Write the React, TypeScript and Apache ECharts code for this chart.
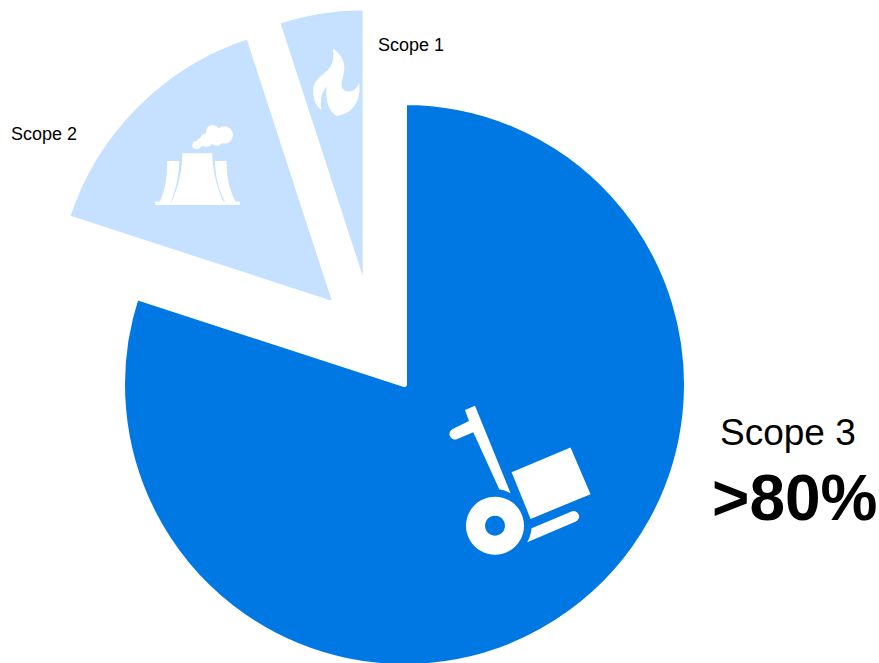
import React, { useEffect, useRef } from "react";
import * as echarts from "echarts";

const categories = ["Scope 3", "Scope 2", "Scope 1"];
const shares = [80, 15, 5];
const colors = ["#0078e3", "#c6e1ff", "#c6e1ff"];
const centers = [[404.5, 384.5], [335.6, 304.6], [365.2, 291.8]];
const radii = [282, 282, 284];
const headline = ">80%";

const FLAME =
  "M128 55 C150 70 168 95 162 125 C158 150 150 165 158 176 C170 192 198 186 207 160 C214 195 200 250 140 258 C118 245 105 215 110 170 C92 190 90 215 95 240 C78 232 68 205 70 175 C72 150 100 135 118 115 C130 100 133 78 128 55 Z";
const PLANT =
  "M30 260 H78 C92 225 102 185 103 138 H66 C68 185 60 225 45 260 H30 Z " +
  "M80 260 H235 C218 220 203 175 202 115 H112 C112 175 98 220 80 260 Z " +
  "M210 138 H245 C245 190 255 228 272 260 H240 C222 225 212 190 210 138 Z " +
  "M30 260 H285 V270 H30 Z";
const TROLLEY =
  "M75 45 L105 32 L212 295 Q195 285 178 283 L100 112 L52 132 A16 16 0 0 1 38 102 L87 78 Z " +
  "M215 232 L392 158 L452 298 L272 372 Z " +
  "M275 400 L395 350 A16 16 0 0 1 408 380 L262 442 Q272 425 275 400 Z";
const SMOKE = [
  [203, 50, 20],
  [238, 60, 26],
  [215, 72, 20],
  [185, 75, 20],
  [168, 82, 13],
  [155, 90, 13],
];

echarts.graphic.registerShape("flameIcon", echarts.graphic.extendPath(FLAME, {}));
echarts.graphic.registerShape("plantIcon", echarts.graphic.extendPath(PLANT, {}));
echarts.graphic.registerShape("trolleyIcon", echarts.graphic.extendPath(TROLLEY, {}));

const FONT = '"Liberation Sans", Arial, sans-serif';

function textEl(text: string, x: number, y: number, size: number, weight = "normal") {
  return {
    type: "text",
    x,
    y,
    z: 100,
    style: { text, fontFamily: FONT, fontSize: size, fontWeight: weight, fill: "#000", textAlign: "left", textVerticalAlign: "middle" },
  };
}

export default function App() {
  const ref = useRef<HTMLDivElement>(null);
  useEffect(() => {
    const chart = echarts.init(ref.current!, null, { renderer: "svg" });
    const white = { fill: "#fff" };
    chart.setOption({
      animation: false,
      backgroundColor: "#fff",
      series: categories.map((name, owner) => ({
        type: "pie",
        name,
        silent: true,
        center: centers[owner],
        radius: [0, radii[owner]],
        startAngle: 90,
        clockwise: true,
        avoidLabelOverlap: false,
        label: { show: false },
        labelLine: { show: false },
        data: categories.map((cat, i) => ({
          name: cat,
          value: shares[i],
          itemStyle:
            i === owner
              ? { color: colors[i], borderColor: "#fff", borderWidth: 5 }
              : { color: "transparent", borderWidth: 0 },
        })),
      })),
      graphic: {
        elements: [
          textEl(categories[2], 378, 45, 18),
          textEl(categories[1], 11, 134, 18),
          textEl(categories[0], 720, 432, 37),
          textEl(headline, 712, 498, 64, "bold"),
          { type: "flameIcon", x: 290, y: 30, scaleX: 1 / 3, scaleY: 1 / 3, z: 100, style: white },
          { type: "plantIcon", x: 145, y: 115, scaleX: 1 / 3, scaleY: 1 / 3, z: 100, style: white },
          ...SMOKE.map(([cx, cy, r]) => ({
            type: "circle",
            x: 145,
            y: 115,
            scaleX: 1 / 3,
            scaleY: 1 / 3,
            z: 100,
            shape: { cx, cy, r },
            style: white,
          })),
          { type: "trolleyIcon", x: 440, y: 395, scaleX: 1 / 3, scaleY: 1 / 3, z: 100, style: white },
          { type: "ring", z: 100, shape: { cx: 495, cy: 525.7, r: 29, r0: 10 }, style: white },
        ],
      },
    });
    return () => chart.dispose();
  }, []);
  return <div ref={ref} style={{ position: "fixed", left: 0, top: 0, width: 879, height: 663 }} />;
}
